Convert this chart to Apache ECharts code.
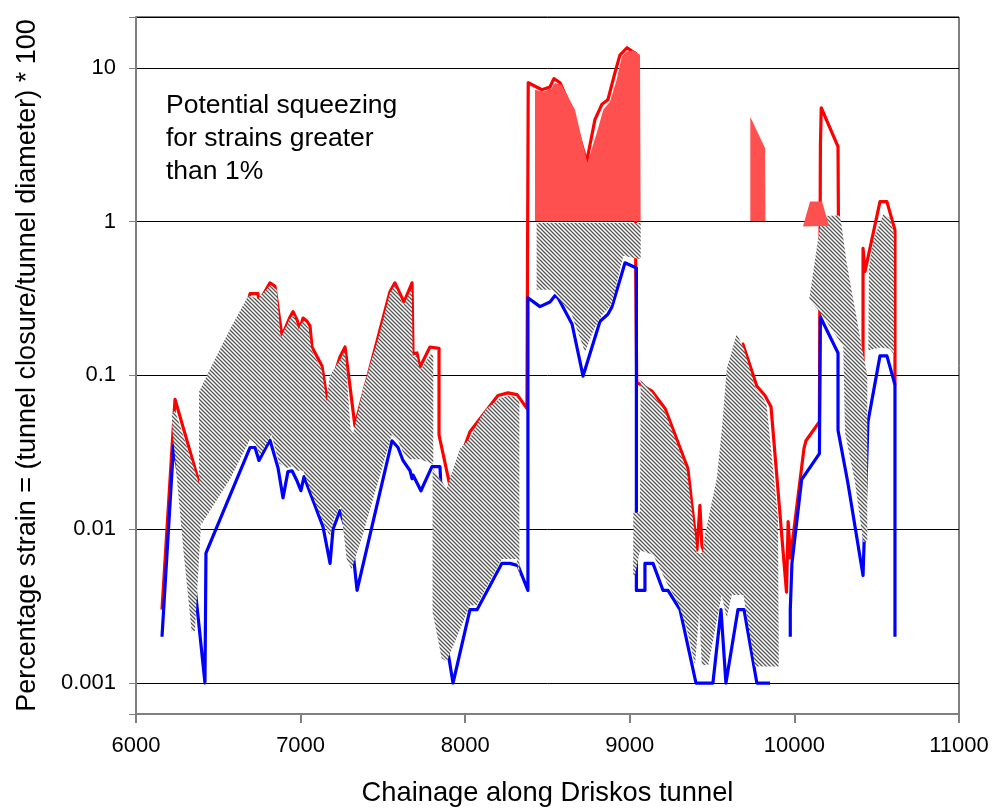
<!DOCTYPE html>
<html><head><meta charset="utf-8">
<script src="https://cdn.jsdelivr.net/npm/echarts@6/dist/echarts.min.js"></script>
<style>html,body{margin:0;padding:0;background:#fff}#c{width:995px;height:812px}</style>
</head><body><div id="c"></div>
<script>
// ---- data (chainage, percentage strain) ----
const redLine = [[6158,0.003],[6237,0.07],[6390,0.019],[6693,0.34],[6741,0.34],[6747,0.30],[6814,0.40],[6844,0.38],[6887,0.18],[6936,0.24],[6954,0.26],[6978,0.23],[6995,0.2],[7015,0.236],[7039,0.225],[7057,0.21],[7069,0.153],[7130,0.115],[7160,0.07],[7239,0.132],[7270,0.153],[7330,0.047],[7543,0.35],[7573,0.40],[7628,0.30],[7677,0.40],[7683,0.138],[7707,0.14],[7725,0.113],[7786,0.153],[7841,0.15],[7841,0.041],[7908,0.019],[8029,0.043],[8199,0.074],[8260,0.077],[8315,0.075],[8375,0.061],[8383,0.061],[8383,8.0],[8466,7.2],[8515,7.5],[8539,8.5],[8576,8.0],[8640,5.6],[8738,2.45],[8788,4.6],[8831,5.8],[8867,6.2],[8910,9.3],[8940,12.1],[8983,13.5],[9019,12.7],[9036,12.4],[9036,0.5],[9042,0.09],[9135,0.079],[9214,0.061],[9353,0.0248],[9408,0.0073],[9426,0.0143],[9438,0.0078],[9500,0.005],[9620,0.08],[9687,0.16],[9772,0.085],[9821,0.074],[9858,0.0625],[9952,0.0039],[9962,0.0112],[9970,0.0112],[9976,0.0065],[10058,0.0334],[10070,0.0376],[10152,0.05],[10158,3.1],[10163,5.5],[10265,3.07],[10268,0.8],[10400,0.125],[10417,0.125],[10417,0.67],[10429,0.475],[10520,1.35],[10562,1.35],[10611,0.88],[10611,0.087]];
const blueLineA = [[6158,0.002],[6228,0.035],[6334,0.0075],[6419,0.001],[6425,0.007],[6693,0.034],[6723,0.034],[6747,0.028],[6814,0.038],[6863,0.025],[6893,0.016],[6923,0.0237],[6948,0.024],[6975,0.021],[7002,0.0178],[7021,0.022],[7136,0.0104],[7179,0.006],[7197,0.01],[7239,0.0132],[7318,0.0072],[7343,0.004],[7555,0.0376],[7592,0.034],[7622,0.028],[7665,0.024],[7677,0.0213],[7683,0.0225],[7731,0.0178],[7798,0.0255],[7847,0.0255],[7895,0.0016],[7926,0.001],[8029,0.003],[8072,0.003],[8223,0.006],[8272,0.006],[8321,0.0058],[8381,0.004],[8381,0.32],[8454,0.28],[8515,0.30],[8545,0.33],[8564,0.32],[8649,0.216],[8716,0.099],[8819,0.225],[8867,0.25],[8892,0.28],[8971,0.54],[9040,0.50],[9040,0.004],[9092,0.004],[9092,0.006],[9141,0.006],[9202,0.004],[9232,0.004],[9305,0.003],[9402,0.001],[9444,0.001],[9505,0.001],[9554,0.003],[9584,0.001],[9657,0.003],[9694,0.003],[9772,0.001],[9852,0.001]];
const blueLineB = [[9975,0.002],[9975,0.003],[9985,0.006],[10044,0.021],[10152,0.031],[10158,0.24],[10265,0.14],[10265,0.044],[10325,0.02],[10417,0.005],[10447,0.05],[10520,0.134],[10562,0.134],[10611,0.087],[10611,0.002]];

// hatched range bands (outline points)
const hatchA = [[6217,0.0563],[6237,0.0592],[6389,0.0189],[6393,0.0101],[6358,0.00217],[6338,0.00217],[6287,0.0075],[6223,0.0428]];
const hatchB = [[6383,0.078],[6430,0.1],[6571,0.2],[6682,0.33],[6743,0.315],[6814,0.385],[6855,0.36],[6879,0.175],[6936,0.235],[6960,0.245],[6986,0.2],[7013,0.225],[7047,0.205],[7067,0.145],[7128,0.11],[7158,0.067],[7178,0.1],[7243,0.128],[7270,0.142],[7304,0.044],[7320,0.042],[7381,0.083],[7482,0.19],[7543,0.345],[7573,0.385],[7624,0.285],[7675,0.365],[7681,0.132],[7705,0.135],[7725,0.108],[7796,0.14],[7806,0.136],[7806,0.0262],[7796,0.0268],[7725,0.0285],[7654,0.0285],[7624,0.0315],[7593,0.0375],[7553,0.041],[7381,0.0095],[7310,0.0055],[7280,0.0064],[7243,0.0142],[7203,0.0117],[7178,0.009],[7138,0.011],[7057,0.0182],[7016,0.024],[6972,0.024],[6952,0.0258],[6915,0.025],[6870,0.0268],[6824,0.0412],[6753,0.03],[6729,0.0355],[6693,0.0384],[6571,0.0211],[6399,0.0108],[6383,0.013]];
const hatchC = [[7802,0.0248],[7888,0.0184],[7968,0.0334],[8029,0.039],[8090,0.0525],[8130,0.061],[8211,0.071],[8262,0.074],[8313,0.072],[8329,0.068],[8329,0.0049],[8313,0.0064],[8222,0.0064],[8070,0.0032],[8029,0.0032],[7888,0.00138],[7857,0.00145],[7802,0.0029]];
const hatchD = [[8434,0.98],[9066,0.98],[9066,0.569],[8960,0.6],[8890,0.29],[8829,0.245],[8778,0.195],[8728,0.142],[8697,0.176],[8646,0.25],[8525,0.36],[8434,0.36]];
const hatchE = [[9066,0.0935],[9133,0.078],[9214,0.058],[9346,0.0242],[9396,0.0092],[9406,0.007],[9443,0.007],[9457,0.0092],[9528,0.0213],[9558,0.0428],[9589,0.11],[9649,0.186],[9690,0.153],[9761,0.084],[9811,0.071],[9831,0.064],[9900,0.012],[9905,0.00128],[9761,0.00128],[9690,0.00374],[9619,0.00374],[9589,0.00264],[9558,0.00374],[9477,0.00131],[9437,0.00131],[9422,0.0029],[9396,0.00131],[9346,0.00227],[9294,0.0033],[9224,0.0045],[9143,0.0068],[9062,0.0073],[9031,0.005],[9021,0.005],[9021,0.0127],[9062,0.013]];
const hatchG = [[10090,0.313],[10165,1.086],[10277,1.096],[10287,0.936],[10317,0.542],[10408,0.156],[10443,0.0998],[10443,0.0083],[10418,0.0083],[10368,0.0203],[10307,0.0428],[10297,0.155],[10155,0.258]];
const hatchH = [[10449,0.145],[10520,0.152],[10577,0.149],[10605,0.137],[10605,0.82],[10581,1.05],[10540,1.12],[10479,0.75],[10453,0.5]];

// red squeezing zones (strain > 1 %)
const redFill1 = [[8424,1.01],[8424,7.2],[8474,7.0],[8525,7.4],[8545,7.96],[8586,7.76],[8667,5.34],[8742,2.41],[8799,3.77],[8839,5.34],[8880,6.05],[8920,8.36],[8951,11.8],[8981,12.75],[9021,12.95],[9062,12.14],[9066,1.01]];
const redFill2 = [[9732,1.01],[9732,4.8],[9822,3.0],[9824,1.01]];
const redFill3 = [[10052,0.93],[10095,1.353],[10168,1.353],[10210,0.94]];

const yTickLabels = ['0.001','0.01','0.1','1','10'];
const xRange = [6000, 11000];
const yRange = [0.000629, 21.4];
const noteText = 'Potential squeezing\nfor strains greater\nthan 1%';

const hatchPolys = [hatchA, hatchB, hatchC, hatchD, hatchE, hatchG, hatchH];
const redPolys = [redFill1, redFill2, redFill3];

function makeHatch(){
  const s = 8, c = document.createElement('canvas');
  c.width = s; c.height = s;
  const g = c.getContext('2d');
  g.fillStyle = '#fff'; g.fillRect(0,0,s,s);
  g.strokeStyle = '#555555'; g.lineWidth = 1.3;
  g.beginPath();
  for (const k of [-8,-4,0,4,8]) { g.moveTo(k-2,-2); g.lineTo(k+s+2,s+2); }
  g.stroke();
  return c;
}
const hatchFill = {image: makeHatch(), repeat: 'repeat'};

function polySeries(name, polys, fill, z){
  return {
    type:'custom', name, z, silent:true, clip:true, animation:false,
    data: polys.map(p => p[0]),
    encode:{x:0, y:1},
    renderItem: (params, api) => ({
      type:'polygon',
      shape:{points: polys[params.dataIndex].map(p => api.coord(p))},
      style:{fill: fill, stroke: null}
    })
  };
}

const FONT = 'Liberation Sans';
const chart = echarts.init(document.getElementById('c'));
chart.setOption({
  animation:false,
  backgroundColor:'#fff',
  grid:{left:136, right:36, top:17, bottom:96, show:true, borderColor:'#000', borderWidth:1, backgroundColor:'#fff'},
  xAxis:{
    type:'value', min:xRange[0], max:xRange[1], interval:1000,
    axisLine:{show:true, onZero:false, lineStyle:{color:'#808080', width:2}},
    axisTick:{show:true, length:9, lineStyle:{color:'#808080', width:2}},
    axisLabel:{color:'#000', fontSize:22, fontFamily:FONT, margin:21, formatter: v => String(v)},
    splitLine:{show:false},
    name:'Chainage along Driskos tunnel', nameLocation:'middle', nameGap:66,
    nameTextStyle:{color:'#000', fontSize:27.3, fontFamily:FONT}
  },
  yAxis:{
    type:'log', logBase:10, min:yRange[0], max:yRange[1],
    axisLine:{show:true, onZero:false, lineStyle:{color:'#808080', width:2}},
    axisTick:{show:true, length:7, lineStyle:{color:'#808080', width:1}},
    axisLabel:{color:'#000', fontSize:22, fontFamily:FONT, margin:20,
      formatter: v => { const l = Math.log10(v), e = Math.round(l);
        return Math.abs(l - e) < 1e-6 && yTickLabels[e+3] !== undefined ? yTickLabels[e+3] : ''; }},
    splitLine:{show:true, lineStyle:{color:'#000', width:1}},
    name:'Percentage strain = (tunnel closure/tunnel diameter) * 100', nameLocation:'middle', nameGap:95,
    nameTextStyle:{color:'#000', fontSize:27, fontFamily:FONT}
  },
  graphic:[{type:'text', left:166, top:89, z:100,
    style:{text:noteText, fill:'#000', font:'26.5px "Liberation Sans"', lineHeight:33}}],
  series:[
    {type:'line', name:'upper', data:redLine, showSymbol:false, symbol:'none', z:2,
      lineStyle:{color:'#ff0000', width:3.2, join:'round'}},
    {type:'line', name:'lowerA', data:blueLineA, showSymbol:false, symbol:'none', z:2,
      lineStyle:{color:'#0000ff', width:3.2, join:'round'}},
    {type:'line', name:'lowerB', data:blueLineB, showSymbol:false, symbol:'none', z:2,
      lineStyle:{color:'#0000ff', width:3.2, join:'round'}},
    polySeries('range', hatchPolys, hatchFill, 3),
    polySeries('squeezing', redPolys, '#ff5050', 4)
  ]
});
</script></body></html>
